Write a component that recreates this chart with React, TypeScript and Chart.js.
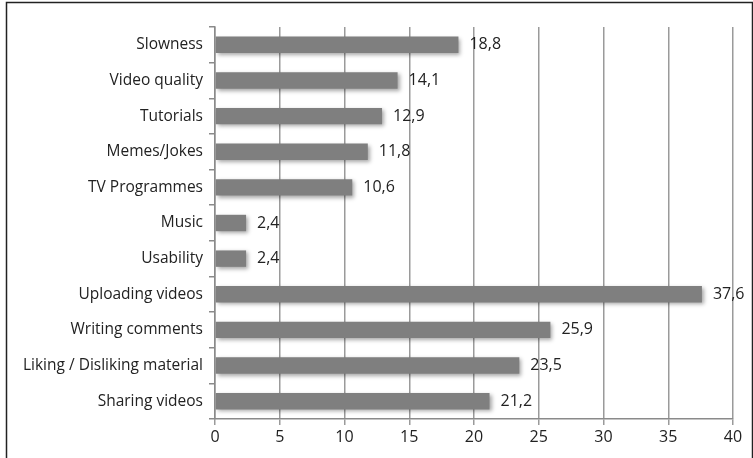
import React, { useEffect, useRef } from "react";
import { Chart, registerables } from "chart.js";

Chart.register(...registerables);

const categories = [
  "Slowness",
  "Video quality",
  "Tutorials",
  "Memes/Jokes",
  "TV Programmes",
  "Music",
  "Usability",
  "Uploading videos",
  "Writing comments",
  "Liking / Disliking material",
  "Sharing videos",
];
const values = [18.8, 14.1, 12.9, 11.8, 10.6, 2.4, 2.4, 37.6, 25.9, 23.5, 21.2];
const xMin = 0;
const xMax = 40;
const xStep = 5;

const FONT = "'Open Sans', 'DejaVu Sans', sans-serif";

export default function App() {
  const ref = useRef<HTMLCanvasElement | null>(null);
  useEffect(() => {
    document.body.style.margin = "0";
    const canvas = ref.current;
    if (!canvas) return;
    const framePlugin = {
      id: "frame",
      afterDraw(chart: any) {
        const ctx = chart.ctx;
        ctx.save();
        ctx.strokeStyle = "#222";
        ctx.lineWidth = 1.5;
        ctx.strokeRect(6.5, 2.5, 746, 480);
        ctx.restore();
      },
    };
    const shadowPlugin = {
      id: "shadow",
      beforeDatasetsDraw(chart: any) {
        const ctx = chart.ctx;
        ctx.save();
        ctx.shadowColor = "rgba(0,0,0,0.35)";
        ctx.shadowBlur = 4;
        ctx.shadowOffsetX = 2;
        ctx.shadowOffsetY = 2;
      },
      afterDatasetsDraw(chart: any) {
        chart.ctx.restore();
      },
    };
    const labelPlugin = {
      id: "valueLabels",
      afterDatasetsDraw(chart: any) {
        const ctx = chart.ctx;
        const meta = chart.getDatasetMeta(0);
        ctx.save();
        ctx.font = `16px ${FONT}`;
        ctx.fillStyle = "#222";
        ctx.textAlign = "left";
        ctx.textBaseline = "middle";
        meta.data.forEach((bar: any, i: number) => {
          const txt = values[i].toFixed(1).replace(".", ",");
          ctx.fillText(txt, bar.x + 11, bar.y);
        });
        ctx.restore();
      },
    };
    const chart = new Chart(canvas, {
      type: "bar",
      data: {
        labels: categories,
        datasets: [
          {
            data: values,
            backgroundColor: "#7f7f7f",
            borderWidth: 0,
            barPercentage: 0.46,
            categoryPercentage: 1,
          },
        ],
      },
      options: {
        indexAxis: "y",
        animation: false,
        responsive: false,
        maintainAspectRatio: false,
        layout: { padding: { left: 0, top: 27, right: 20, bottom: 0 } },
        plugins: {
          legend: { display: false },
          tooltip: { enabled: false },
        },
        scales: {
          x: {
            min: xMin,
            max: xMax,
            afterFit(scale: any) {
              scale.height = 39;
            },
            ticks: {
              stepSize: xStep,
              color: "#222",
              font: { family: FONT, size: 16 },
              padding: 3,
            },
            grid: {
              color: "#9a9a9a",
              lineWidth: 1.5,
              tickLength: 6,
            },
            border: { display: true, color: "#8a8a8a", width: 1.5 },
          },
          y: {
            afterFit(scale: any) {
              scale.width = 215;
            },
            ticks: {
              color: "#222",
              font: { family: FONT, size: 15.5 },
              padding: 6,
            },
            grid: {
              offset: true,
              drawOnChartArea: false,
              drawTicks: true,
              tickLength: 6,
              color: "#8a8a8a",
              lineWidth: 1.5,
            },
            border: { display: true, color: "#8a8a8a", width: 1.5 },
          },
        },
      },
      plugins: [shadowPlugin, labelPlugin, framePlugin],
    });
    return () => chart.destroy();
  }, []);
  return (
    <div style={{ position: "absolute", left: 0, top: 0, width: 753, height: 458, background: "#fff" }}>
      <canvas ref={ref} width={753} height={458} style={{ display: "block" }} />
    </div>
  );
}
